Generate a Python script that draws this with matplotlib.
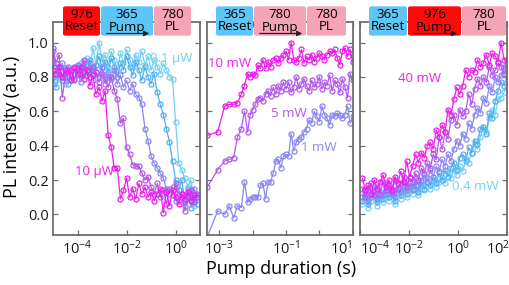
import numpy as np
import matplotlib
matplotlib.use("Agg")
import matplotlib.pyplot as plt
from matplotlib.patches import FancyBboxPatch, FancyArrowPatch
from matplotlib.ticker import FixedLocator, FuncFormatter, NullLocator
from matplotlib.transforms import ScaledTranslation

plt.rcParams['font.family'] = ['Open Sans', 'DejaVu Sans']
plt.rcParams['mathtext.fontset'] = 'custom'
plt.rcParams['mathtext.rm'] = 'Open Sans'
plt.rcParams['mathtext.it'] = 'Open Sans:italic'
plt.rcParams['mathtext.bf'] = 'Open Sans:bold'
plt.rcParams['mathtext.default'] = 'regular'

# ---------------- data ----------------
# Panel 1: 976 reset, 365 pump (power series)
x1 = np.logspace(-5, 0.86, 48)
p1_10uW = [0.84, 0.82, 0.86, 0.80, 0.84, 0.83, 0.78, 0.85, 0.82, 0.86, 0.79, 0.84, 0.75, 0.81, 0.70, 0.74,
           0.66, 0.72, 0.46, 0.39, 0.27, 0.27, 0.09, 0.14, 0.21, 0.10, 0.15, 0.09, 0.18, 0.12, 0.16, 0.10,
           0.13, 0.08, 0.12, 0.15, 0.01, 0.13, 0.05, 0.14, 0.10, 0.06, 0.12, 0.09, 0.13, 0.08, 0.11, 0.10]
p1_b = [0.97, 0.88, 0.93, 0.68, 0.80, 0.86, 0.84, 0.78, 0.87, 0.82, 0.90, 0.84, 0.80, 0.86, 0.83, 0.77,
        0.82, 0.79, 0.74, 0.80, 0.72, 0.67, 0.53, 0.56, 0.39, 0.35, 0.29, 0.28, 0.28, 0.24, 0.20, 0.22,
        0.16, 0.12, 0.18, 0.10, 0.14, 0.06, 0.15, 0.11, 0.18, 0.08, 0.12, 0.02, 0.10, 0.14, 0.07, 0.12]
p1_c = [0.95, 0.86, 0.82, 0.88, 0.80, 0.84, 0.79, 0.86, 0.83, 0.77, 0.85, 0.81, 0.88, 0.78, 0.83, 0.80,
        0.86, 0.76, 0.82, 0.79, 0.84, 0.76, 0.81, 0.74, 0.78, 0.72, 0.76, 0.70, 0.68, 0.64, 0.50, 0.43,
        0.34, 0.30, 0.27, 0.24, 0.21, 0.15, 0.12, 0.16, 0.08, 0.14, 0.10, 0.05, 0.13, 0.09, 0.15, 0.11]
p1_d = [0.80, 0.74, 0.82, 0.78, 0.85, 0.76, 0.83, 0.79, 0.86, 0.81, 0.88, 0.83, 0.90, 0.82, 0.87, 0.92,
        0.85, 0.89, 0.83, 0.91, 0.86, 0.80, 0.88, 0.84, 0.92, 0.86, 0.81, 0.89, 0.84, 0.78, 0.86, 0.80,
        0.76, 0.82, 0.71, 0.64, 0.58, 0.50, 0.42, 0.31, 0.20, 0.14, 0.20, 0.08, 0.15, 0.04, 0.12, 0.06]
p1_01uW = [0.82, 0.78, 0.85, 0.80, 0.76, 0.84, 0.79, 0.86, 0.81, 0.88, 0.83, 0.91, 0.85, 0.97, 0.87, 1.00,
           0.89, 0.93, 0.86, 0.95, 0.90, 0.84, 0.94, 0.88, 0.96, 0.90, 0.86, 0.93, 0.89, 0.95, 0.87, 0.92,
           0.84, 0.90, 0.86, 0.82, 0.88, 0.84, 0.80, 0.79, 0.54, 0.30, 0.26, 0.21, 0.16, 0.20, 0.05, 0.10]

# Panel 2: 365 reset, 780 pump
x2 = np.concatenate([[4.4e-4, 9e-4, 1.45e-3, 2e-3, 2.7e-3, 3.5e-3, 4.6e-3, 5.7e-3],
                     np.logspace(-2.15, 1.0, 42)])
p2_10mW = [0.46, 0.48, 0.63, 0.64, 0.64, 0.65, 0.70, 0.75, 0.82, 0.80, 0.82, 0.81, 0.87, 0.85, 0.90,
           0.85, 0.89, 0.86, 0.90, 0.91, 0.88, 0.91, 0.93, 0.95, 0.90, 1.00, 0.90, 0.89, 0.91, 0.96,
           0.88, 0.92, 0.90, 0.93, 0.89, 0.91, 0.94, 0.92, 0.90, 0.93, 0.95, 0.94, 0.96, 0.91, 0.87,
           0.95, 0.97, 0.92, 0.96, 0.89]
p2_5mW = [0.16, 0.26, 0.31, 0.32, 0.33, 0.45, 0.50, 0.60, 0.48, 0.58, 0.61, 0.64, 0.67, 0.68, 0.66,
          0.70, 0.72, 0.69, 0.74, 0.70, 0.75, 0.72, 0.77, 0.73, 0.77, 0.71, 0.74, 0.80, 0.73, 0.76,
          0.79, 0.75, 0.72, 0.78, 0.74, 0.76, 0.80, 0.73, 0.77, 0.75, 0.81, 0.72, 0.78, 0.76, 0.71,
          0.79, 0.74, 0.68, 0.82, 0.78]
p2_1mW = [-0.13, 0.02, 0.00, 0.05, -0.02, 0.05, 0.04, 0.19, 0.07, 0.09, 0.10, 0.10, 0.10, 0.17, 0.18,
          0.09, 0.19, 0.19, 0.24, 0.31, 0.32, 0.27, 0.34, 0.35, 0.34, 0.47, 0.37, 0.42, 0.44, 0.45,
          0.48, 0.50, 0.55, 0.53, 0.60, 0.57, 0.54, 0.63, 0.58, 0.56, 0.52, 0.58, 0.57, 0.59, 0.58,
          0.56, 0.58, 0.63, 0.53, 0.57]

# Panel 3: 365 reset, 976 pump
x3 = np.logspace(-3.9, 2.0, 50)
p3_40mW = [0.21, 0.14, 0.17, 0.12, 0.20, 0.15, 0.19, 0.23, 0.16, 0.20, 0.14, 0.22, 0.18, 0.25, 0.19,
           0.31, 0.22, 0.28, 0.35, 0.30, 0.36, 0.33, 0.40, 0.42, 0.38, 0.49, 0.45, 0.52, 0.48, 0.61,
           0.58, 0.67, 0.74, 0.70, 0.75, 0.84, 0.80, 0.84, 0.83, 0.90, 0.86, 0.88, 0.93, 0.87, 0.94,
           0.92, 0.89, 1.00, 0.90, 0.90]
p3_b = [0.15, 0.10, 0.14, 0.18, 0.11, 0.16, 0.12, 0.19, 0.14, 0.17, 0.13, 0.20, 0.15, 0.18, 0.22,
        0.16, 0.21, 0.19, 0.24, 0.20, 0.27, 0.24, 0.30, 0.27, 0.35, 0.32, 0.45, 0.38, 0.48, 0.44,
        0.55, 0.58, 0.52, 0.61, 0.57, 0.60, 0.70, 0.64, 0.73, 0.79, 0.75, 0.80, 0.77, 0.86, 0.81,
        0.84, 0.88, 0.86, 0.82, 0.85]
p3_c = [0.10, 0.14, 0.08, 0.12, 0.16, 0.09, 0.13, 0.11, 0.17, 0.12, 0.15, 0.10, 0.16, 0.13, 0.19,
        0.14, 0.18, 0.15, 0.21, 0.17, 0.20, 0.23, 0.19, 0.26, 0.22, 0.28, 0.25, 0.32, 0.28, 0.35,
        0.31, 0.38, 0.43, 0.40, 0.47, 0.44, 0.53, 0.50, 0.58, 0.62, 0.59, 0.68, 0.65, 0.75, 0.71,
        0.80, 0.77, 0.81, 0.86, 0.88]
p3_d = [0.08, 0.12, 0.06, 0.10, 0.13, 0.07, 0.11, 0.09, 0.14, 0.10, 0.13, 0.08, 0.15, 0.11, 0.16,
        0.12, 0.18, 0.14, 0.17, 0.13, 0.19, 0.15, 0.21, 0.17, 0.22, 0.18, 0.24, 0.20, 0.26, 0.22,
        0.27, 0.30, 0.26, 0.33, 0.35, 0.31, 0.39, 0.36, 0.43, 0.41, 0.50, 0.51, 0.47, 0.59, 0.56,
        0.66, 0.72, 0.77, 0.75, 0.81]
p3_04mW = [0.06, 0.10, 0.04, 0.08, 0.11, 0.05, 0.09, 0.07, 0.12, 0.08, 0.11, 0.06, 0.13, 0.09, 0.14,
           0.10, 0.15, 0.12, 0.16, 0.11, 0.17, 0.14, 0.18, 0.15, 0.20, 0.16, 0.19, 0.22, 0.18, 0.24,
           0.21, 0.26, 0.23, 0.28, 0.25, 0.32, 0.30, 0.36, 0.41, 0.38, 0.45, 0.51, 0.48, 0.56, 0.61,
           0.58, 0.67, 0.68, 0.71, 0.75]

yticks = [0.0, 0.2, 0.4, 0.6, 0.8, 1.0]

# ---------------- style ----------------
C_MAG = '#EE1CEE'
C_VIO = '#B457EE'
C_BV = '#8A86F2'
C_SKY = '#52B0F0'
C_CY = '#70D0F5'
FRAME = '#6e6e6e'
BOX_RED = '#FF0A0A'
BOX_BLUE = '#5EC6F6'
BOX_PINK = '#F5A3B7'

W, H = 510, 285
fig = plt.figure(figsize=(W / 100, H / 100), dpi=100)

def px_axes(x0, x1p, y0=22, y1=235):
    return fig.add_axes([x0 / W, (H - y1) / H, (x1p - x0) / W, (y1 - y0) / H])

ax1 = px_axes(53, 200)
ax2 = px_axes(207, 353)
ax3 = px_axes(360, 507)

mk = dict(marker='o', markersize=3.6, markerfacecolor='none', markeredgewidth=0.9, linewidth=0.9)

for y, c in [(p1_01uW, C_CY), (p1_d, C_SKY), (p1_c, C_BV), (p1_b, C_VIO), (p1_10uW, C_MAG)]:
    ax1.plot(x1, y, color=c, **mk)
for y, c in [(p2_1mW, C_BV), (p2_5mW, C_VIO), (p2_10mW, C_MAG)]:
    ax2.plot(x2, y, color=c, **mk)
for y, c in [(p3_04mW, C_CY), (p3_d, C_SKY), (p3_c, C_BV), (p3_b, C_VIO), (p3_40mW, C_MAG)]:
    ax3.plot(x3, y, color=c, **mk)

def fmt(v, pos):
    e = int(round(np.log10(v)))
    return r'$\mathregular{10^{%d}}$' % e

setups = [
    (ax1, (1e-5, 10 ** 0.98), [1e-4, 1e-2, 1e0], None),
    (ax2, (4.3e-4, 10 ** 1.01), [1e-3, 1e-2, 1e-1, 1e0, 1e1], [1e-3, 1e-1, 1e1]),
    (ax3, (1e-4, 1e2), [1e-4, 1e-2, 1e0, 1e2], None),
]
for i, (ax, xl, ticks, lab) in enumerate(setups):
    ax.set_xscale('log')
    ax.set_xlim(*xl)
    ax.set_ylim(-0.12, 1.12)
    ax.xaxis.set_major_locator(FixedLocator(ticks))
    ax.xaxis.set_minor_locator(NullLocator())
    if lab is None:
        ax.xaxis.set_major_formatter(FuncFormatter(fmt))
    else:
        ax.xaxis.set_major_formatter(FuncFormatter(
            lambda v, p, lab=lab: fmt(v, p) if any(abs(np.log10(v) - np.log10(l)) < 1e-6 for l in lab) else ''))
    ax.set_yticks(yticks)
    if i == 0:
        ax.set_yticklabels(['%.1f' % t for t in yticks])
    else:
        ax.set_yticklabels([])
    ax.tick_params(direction='in', length=3.5, width=0.9, color=FRAME, top=True, right=True,
                   labelsize=10.5, labelcolor='#1a1a1a', pad=3)
    for s in ax.spines.values():
        s.set_color(FRAME)
        s.set_linewidth(1.3)

# series labels
ax1.text(10 ** -3.3, 0.25, '10 µW', color=C_MAG, fontsize=9.5, ha='center', va='center')
ax1.text(10 ** -0.2, 0.91, '0.1 µW', color=C_CY, fontsize=9.5, ha='center', va='center')
ax2.text(10 ** -2.7, 0.88, '10 mW', color=C_MAG, fontsize=9.5, ha='center', va='center')
ax2.text(10 ** -0.9, 0.59, '5 mW', color=C_VIO, fontsize=9.5, ha='center', va='center')
ax2.text(10 ** 0.0, 0.39, '1 mW', color=C_BV, fontsize=9.5, ha='center', va='center')
ax3.text(10 ** -1.55, 0.79, '40 mW', color=C_MAG, fontsize=9.5, ha='center', va='center')
ax3.text(10 ** 0.7, 0.16, '0.4 mW', color=C_CY, fontsize=9.5, ha='center', va='center')

# axis titles
fig.text(281 / W, (H - 269) / H, 'Pump duration (s)', ha='center', va='center', fontsize=13)
fig.text(12 / W, (H - 127) / H, 'PL intensity (a.u.)', ha='center', va='center', fontsize=13, rotation=90)

# sequence boxes
boxes = [
    (63, 100, BOX_RED, '976\nReset', False), (101, 153, BOX_BLUE, '365\nPump', True), (154, 191, BOX_PINK, '780\nPL', False),
    (216, 253, BOX_BLUE, '365\nReset', False), (254, 306, BOX_PINK, '780\nPump', True), (307, 346, BOX_PINK, '780\nPL', False),
    (369, 407, BOX_BLUE, '365\nReset', False), (408, 461, BOX_RED, '976\nPump', True), (462, 506, BOX_PINK, '780\nPL', False),
]
by0, by1 = 5, 37
for x0, x1p, col, txt, arrow in boxes:
    r = 3
    patch = FancyBboxPatch(((x0 + r) / W, (H - by1 + r) / H), (x1p - x0 - 2 * r) / W, (by1 - by0 - 2 * r) / H,
                           boxstyle='round,pad=%f' % (r / W), transform=fig.transFigure,
                           facecolor=col, edgecolor='none', zorder=5)
    fig.patches.append(patch)
    cx = (x0 + x1p) / 2
    l1, l2 = txt.split('\n')
    fig.text(cx / W, (H - 14) / H, l1, ha='center', va='center', fontsize=9.5, zorder=6)
    fig.text(cx / W, (H - 27) / H, l2, ha='center', va='center', fontsize=9.5, zorder=6)
    if arrow:
        ar = FancyArrowPatch(((x0 + 3) / W, (H - 33.5) / H), ((x1p - 1) / W, (H - 33.5) / H),
                             transform=fig.transFigure, arrowstyle='-|>,head_length=3,head_width=1.5',
                             color='#222222', linewidth=0.9, mutation_scale=1, zorder=6)
        fig.patches.append(ar)

# edge tick labels: keep them clear of neighbouring panels / figure edge
fig.canvas.draw()
ax2.get_xticklabels()[-1].set_horizontalalignment('right')
ax3.get_xticklabels()[0].set_horizontalalignment('left')
lbl = ax3.get_xticklabels()[-1]
lbl.set_transform(lbl.get_transform() + ScaledTranslation(-9 / 100, 0, fig.dpi_scale_trans))

fig.savefig('out.png', dpi=100)
